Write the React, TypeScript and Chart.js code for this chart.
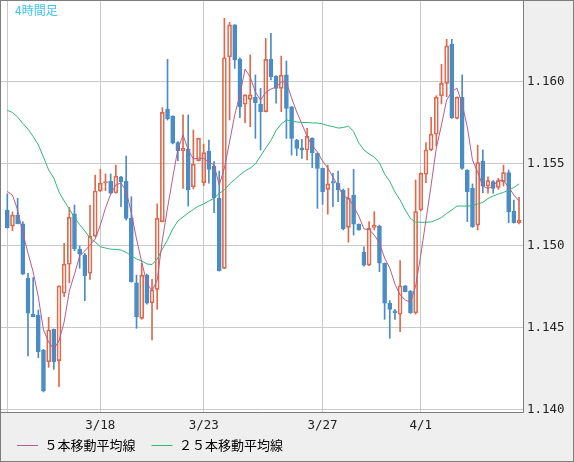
import { useEffect, useRef } from 'react';
import { Chart, registerables } from 'chart.js';

Chart.register(...registerables);

const chartTitle = '4時間足';
const seriesNames = ['５本移動平均線', '２５本移動平均線'];
const tickIndex = [0, 18, 38, 61, 80];
const tickLabels = ['', '3/18', '3/23', '3/27', '4/1'];
const priceTicks = [1.14, 1.145, 1.15, 1.155, 1.16];

const opens = [
  1.15216, 1.15118, 1.15185, 1.15131, 1.14799, 1.14580, 1.14575, 1.14362, 1.14290, 1.14488,
  1.14297, 1.14708, 1.14885, 1.15192, 1.14978, 1.14943, 1.14830, 1.15057, 1.15332, 1.15382,
  1.15393, 1.15321, 1.15419, 1.15393, 1.15165, 1.14772, 1.14555, 1.14819, 1.14650, 1.14732,
  1.15145, 1.15832, 1.15789, 1.15627, 1.15578, 1.15586, 1.15358, 1.15517, 1.15382, 1.15576,
  1.15484, 1.15287, 1.14860, 1.16151, 1.16345, 1.16137, 1.15861, 1.15891, 1.15904, 1.15861,
  1.15816, 1.16135, 1.16033, 1.15958, 1.16040, 1.15846, 1.15643, 1.15596, 1.15582, 1.15653,
  1.15562, 1.15470, 1.15342, 1.15389, 1.15379, 1.15338, 1.15110, 1.15307, 1.15129, 1.14958,
  1.14880, 1.15110, 1.15118, 1.14891, 1.14647, 1.14600, 1.14580, 1.14754, 1.14722, 1.14589,
  1.15216, 1.15434, 1.15582, 1.15678, 1.15913, 1.15989, 1.16229, 1.15775, 1.15904, 1.15460,
  1.15348, 1.15124, 1.15515, 1.15362, 1.15389, 1.15354, 1.15389, 1.15444, 1.15210, 1.15138,
];

const highs = [
  1.15314, 1.15204, 1.15287, 1.15145, 1.14830, 1.14803, 1.14606, 1.14366, 1.14561, 1.14490,
  1.14755, 1.15013, 1.15232, 1.15246, 1.14996, 1.14952, 1.15245, 1.15429, 1.15464, 1.15436,
  1.15436, 1.15490, 1.15421, 1.15545, 1.15297, 1.14819, 1.14891, 1.14825, 1.14793, 1.15253,
  1.15840, 1.16135, 1.15791, 1.15633, 1.15796, 1.15796, 1.15704, 1.15655, 1.15617, 1.15643,
  1.15511, 1.15454, 1.16386, 1.16361, 1.16347, 1.16145, 1.15920, 1.16162, 1.16040, 1.15958,
  1.16263, 1.16294, 1.16035, 1.16155, 1.16125, 1.15848, 1.15647, 1.15647, 1.15714, 1.15657,
  1.15564, 1.15472, 1.15490, 1.15440, 1.15454, 1.15344, 1.15348, 1.15464, 1.15131, 1.14992,
  1.15145, 1.15206, 1.15124, 1.14893, 1.14663, 1.14610, 1.14907, 1.14756, 1.14724, 1.15399,
  1.15442, 1.15627, 1.15781, 1.15913, 1.16105, 1.16257, 1.16257, 1.15906, 1.16040, 1.15462,
  1.15375, 1.15612, 1.15582, 1.15419, 1.15395, 1.15409, 1.15490, 1.15460, 1.15277, 1.15293,
];

const lows = [
  1.15106, 1.15090, 1.15131, 1.14822, 1.14325, 1.14563, 1.14315, 1.14106, 1.14256, 1.14244,
  1.14138, 1.14687, 1.14772, 1.14968, 1.14860, 1.14663, 1.14793, 1.15051, 1.15328, 1.15334,
  1.15314, 1.15318, 1.15236, 1.15155, 1.14776, 1.14494, 1.14549, 1.14642, 1.14423, 1.14610,
  1.15143, 1.15765, 1.15619, 1.15517, 1.15348, 1.15240, 1.15344, 1.15515, 1.15364, 1.15379,
  1.15199, 1.14843, 1.14858, 1.15765, 1.16080, 1.15779, 1.15749, 1.15724, 1.15653, 1.15582,
  1.15814, 1.16009, 1.15867, 1.15816, 1.15653, 1.15551, 1.15547, 1.15531, 1.15521, 1.15474,
  1.15226, 1.15251, 1.15190, 1.15236, 1.15267, 1.15094, 1.15019, 1.15063, 1.15092, 1.14874,
  1.14876, 1.15094, 1.14840, 1.14549, 1.14433, 1.14549, 1.14473, 1.14716, 1.14584, 1.14580,
  1.15210, 1.15382, 1.15578, 1.15606, 1.15863, 1.15907, 1.15775, 1.15771, 1.15464, 1.15145,
  1.15110, 1.15094, 1.15321, 1.15318, 1.15318, 1.15342, 1.15362, 1.15138, 1.15135, 1.15131,
];

const closes = [
  1.15108, 1.15185, 1.15132, 1.14824, 1.14586, 1.14565, 1.14351, 1.14112, 1.14484, 1.14290,
  1.14752, 1.14886, 1.15171, 1.14978, 1.14946, 1.14815, 1.15057, 1.15332, 1.15379, 1.15389,
  1.15318, 1.15423, 1.15389, 1.15165, 1.14778, 1.14565, 1.14819, 1.14647, 1.14728, 1.15165,
  1.15812, 1.15771, 1.15623, 1.15578, 1.15592, 1.15338, 1.15495, 1.15653, 1.15566, 1.15464,
  1.15291, 1.14846, 1.16145, 1.16345, 1.16131, 1.15846, 1.15918, 1.15918, 1.15871, 1.15816,
  1.16135, 1.16029, 1.15958, 1.16038, 1.15836, 1.15653, 1.15592, 1.15582, 1.15667, 1.15566,
  1.15470, 1.15328, 1.15375, 1.15379, 1.15338, 1.15100, 1.15287, 1.15129, 1.15094, 1.14880,
  1.15104, 1.15124, 1.14891, 1.14647, 1.14610, 1.14589, 1.14754, 1.14718, 1.14589, 1.15206,
  1.15440, 1.15582, 1.15678, 1.15904, 1.15989, 1.16217, 1.15779, 1.15904, 1.15470, 1.15328,
  1.15114, 1.15505, 1.15362, 1.15395, 1.15348, 1.15395, 1.15444, 1.15206, 1.15138, 1.15155,
];

const ma5 = [
  1.15329, 1.15307, 1.15216, 1.15076, 1.14954, 1.14838, 1.14685, 1.14484, 1.14411, 1.14368,
  1.14417, 1.14533, 1.14722, 1.14825, 1.14935, 1.14966, 1.15002, 1.15039, 1.15124, 1.15228,
  1.15314, 1.15368, 1.15381, 1.15332, 1.15198, 1.15039, 1.14899, 1.14771, 1.14722, 1.14789,
  1.15033, 1.15228, 1.15411, 1.15588, 1.15674, 1.15582, 1.15527, 1.15533, 1.15530, 1.15509,
  1.15491, 1.15368, 1.15472, 1.15631, 1.15796, 1.15918, 1.16076, 1.16027, 1.15936, 1.15887,
  1.15933, 1.15954, 1.15966, 1.15997, 1.15997, 1.15899, 1.15814, 1.15741, 1.15664, 1.15609,
  1.15570, 1.15515, 1.15472, 1.15417, 1.15362, 1.15301, 1.15289, 1.15240, 1.15179, 1.15100,
  1.15097, 1.15063, 1.15015, 1.14923, 1.14862, 1.14764, 1.14697, 1.14667, 1.14652, 1.14752,
  1.14941, 1.15155, 1.15368, 1.15594, 1.15735, 1.15887, 1.15936, 1.15960, 1.15863, 1.15722,
  1.15521, 1.15448, 1.15362, 1.15347, 1.15362, 1.15399, 1.15393, 1.15356, 1.15307, 1.15271,
];

const ma25 = [
  1.15824, 1.15811, 1.15783, 1.15744, 1.15710, 1.15664, 1.15613, 1.15539, 1.15460, 1.15411,
  1.15326, 1.15271, 1.15222, 1.15170, 1.15127, 1.15088, 1.15045, 1.15021, 1.14992, 1.14984,
  1.14977, 1.14975, 1.14972, 1.14957, 1.14938, 1.14917, 1.14905, 1.14887, 1.14883, 1.14917,
  1.14978, 1.15033, 1.15100, 1.15149, 1.15173, 1.15198, 1.15219, 1.15240, 1.15253, 1.15271,
  1.15287, 1.15317, 1.15338, 1.15375, 1.15402, 1.15430, 1.15454, 1.15472, 1.15497, 1.15545,
  1.15594, 1.15640, 1.15701, 1.15741, 1.15765, 1.15759, 1.15753, 1.15750, 1.15750, 1.15747,
  1.15747, 1.15741, 1.15731, 1.15725, 1.15716, 1.15719, 1.15728, 1.15695, 1.15625, 1.15582,
  1.15558, 1.15539, 1.15503, 1.15436, 1.15390, 1.15326, 1.15277, 1.15216, 1.15164, 1.15143,
  1.15141, 1.15141, 1.15143, 1.15155, 1.15170, 1.15195, 1.15216, 1.15240, 1.15240, 1.15240,
  1.15243, 1.15253, 1.15262, 1.15286, 1.15301, 1.15314, 1.15323, 1.15338, 1.15353, 1.15375,
];

const UP_COLOR = '#df694b';
const DOWN_COLOR = '#4a8cc4';
const MA5_COLOR = '#b65e8e';
const MA25_COLOR = '#33b67a';
const GRID_COLOR = '#c9c9c9';
const FRAME_COLOR = '#7d7d7d';

export default function App() {
  const ref = useRef<HTMLCanvasElement>(null);

  useEffect(() => {
    const canvas = ref.current;
    if (!canvas) return;
    const xs = opens.map((_, i) => i);
    const up = xs.map((i) => closes[i] >= opens[i]);
    const color = xs.map((i) => (up[i] ? UP_COLOR : DOWN_COLOR));

    const framePlugin = {
      id: 'frame',
      beforeDraw(chart: any) {
        const { ctx, chartArea: a, width, height } = chart;
        ctx.save();
        ctx.fillStyle = '#efefef';
        ctx.fillRect(0, 0, width, height);
        ctx.fillStyle = '#ffffff';
        ctx.fillRect(a.left, a.top, a.right - a.left, a.bottom - a.top);
        ctx.restore();
      },
      afterDraw(chart: any) {
        const { ctx, chartArea: a, width, height } = chart;
        ctx.save();
        ctx.strokeStyle = FRAME_COLOR;
        ctx.lineWidth = 1;
        ctx.beginPath();
        ctx.moveTo(a.right + 0.5, a.top);
        ctx.lineTo(a.right + 0.5, a.bottom + 0.5);
        ctx.lineTo(a.left, a.bottom + 0.5);
        ctx.stroke();
        ctx.strokeRect(0.5, 0.5, width - 1, height - 1);
        ctx.restore();
      },
    };

    const chart = new Chart(canvas, {
      type: 'bar',
      data: {
        datasets: [
          {
            type: 'bar',
            label: 'upper',
            data: xs.map((i) => ({ x: i, y: [Math.max(opens[i], closes[i]), highs[i]] })),
            backgroundColor: color,
            barThickness: 1,
            grouped: false,
            order: 5,
          } as any,
          {
            type: 'bar',
            label: 'lower',
            data: xs.map((i) => ({ x: i, y: [lows[i], Math.min(opens[i], closes[i])] })),
            backgroundColor: color,
            barThickness: 1,
            grouped: false,
            order: 5,
          } as any,
          {
            type: 'bar',
            label: 'body',
            data: xs.map((i) => ({ x: i, y: [opens[i], closes[i]] })),
            backgroundColor: xs.map((i) => (up[i] ? 'rgba(255,255,255,0)' : DOWN_COLOR)),
            borderColor: color,
            borderWidth: 1,
            borderSkipped: false,
            barThickness: 4,
            grouped: false,
            order: 4,
          } as any,
          {
            type: 'line',
            label: seriesNames[1],
            data: xs.map((i) => ({ x: i, y: ma25[i] })),
            borderColor: MA25_COLOR,
            borderWidth: 1,
            pointRadius: 0,
            tension: 0,
            order: 2,
          } as any,
          {
            type: 'line',
            label: seriesNames[0],
            data: xs.map((i) => ({ x: i, y: ma5[i] })),
            borderColor: MA5_COLOR,
            borderWidth: 1,
            pointRadius: 0,
            tension: 0,
            order: 1,
          } as any,
        ],
      },
      options: {
        responsive: false,
        animation: false,
        layout: { padding: { left: 1, top: 1, right: 0, bottom: 0 } },
        scales: {
          x: {
            type: 'linear',
            min: -1.219,
            max: 99.773,
            offset: false,
            afterBuildTicks: (s: any) => {
              s.ticks = tickIndex.map((v) => ({ value: v }));
            },
            afterFit: (s: any) => {
              s.height = 11;
              s.paddingLeft = 0;
              s.paddingRight = 0;
            },
            grid: { color: GRID_COLOR, lineWidth: 1, drawTicks: false, offset: false },
            border: { display: false },
            ticks: {
              mirror: true,
              padding: -21,
              maxRotation: 0,
              autoSkip: false,
              color: '#222',
              font: { family: "'DejaVu Sans Mono', monospace", size: 12.5 },
              callback: (_v: any, i: number) => tickLabels[i],
            },
          },
          y: {
            type: 'linear',
            position: 'right',
            min: 1.139835,
            max: 1.164911,
            beginAtZero: false,
            afterBuildTicks: (s: any) => {
              s.ticks = priceTicks.map((v) => ({ value: v }));
            },
            afterFit: (s: any) => {
              s.width = 51;
              s.paddingTop = 0;
              s.paddingBottom = 0;
            },
            grid: { color: GRID_COLOR, lineWidth: 1, drawTicks: false },
            border: { display: false },
            ticks: {
              padding: 4,
              color: '#222',
              font: { family: "'DejaVu Sans Mono', monospace", size: 12.5 },
              callback: (v: any) => Number(v).toFixed(3),
            },
          },
        },
        plugins: {
          tooltip: { enabled: false },
          legend: {
            position: 'bottom',
            align: 'start',
            labels: {
              boxWidth: 21,
              boxHeight: 1,
              padding: 16,
              color: '#333',
              font: { family: "'Noto Sans CJK JP', sans-serif", size: 13 },
              generateLabels: () =>
                seriesNames.map((t, k) => ({
                  text: t,
                  fillStyle: k === 0 ? MA5_COLOR : MA25_COLOR,
                  strokeStyle: k === 0 ? MA5_COLOR : MA25_COLOR,
                  lineWidth: 0,
                  hidden: false,
                  datasetIndex: 4 - k,
                })),
            },
          },
        },
      } as any,
      plugins: [framePlugin],
    });

    return () => {
      chart.destroy();
    };
  }, []);

  return (
    <div style={{ position: 'fixed', left: 0, top: 0, width: 574, height: 462 }}>
      <canvas ref={ref} width={574} height={462} style={{ display: 'block' }} />
      <div
        style={{
          position: 'absolute',
          left: 15,
          top: 3,
          color: '#3cc3f0',
          fontFamily: "'Noto Sans CJK JP', sans-serif",
          fontSize: 12,
          lineHeight: '14px',
          whiteSpace: 'nowrap',
        }}
      >
        {chartTitle}
      </div>
    </div>
  );
}
